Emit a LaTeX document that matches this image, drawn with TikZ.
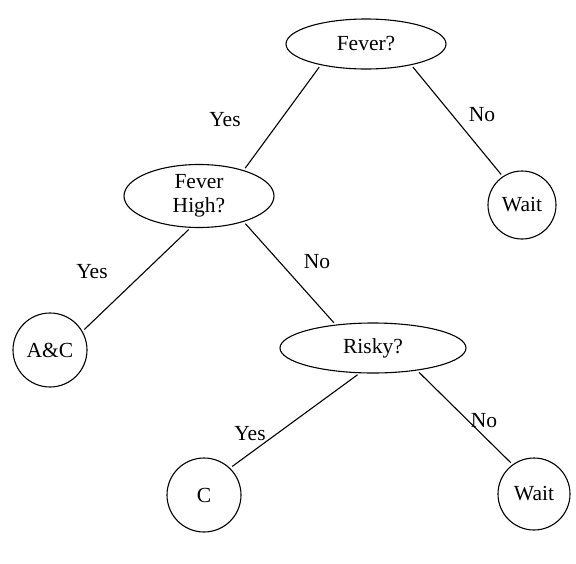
\documentclass[tikz,border=0pt]{standalone}
\usepackage{fontspec}
\setmainfont{Liberation Serif}
\usetikzlibrary{shapes.geometric}

\begin{document}
\begin{tikzpicture}[x=1pt,y=-1pt,line width=1.1pt,
	font=\fontsize{21.5}{24}\selectfont,
	test/.style={draw, ellipse, inner sep=0pt, align=center},
	leaf/.style={draw, circle, inner sep=0pt},
	branch/.style={shorten <=2.5pt, shorten >=2.5pt}]
	\useasboundingbox (0,0) rectangle (576,563);
	% questions
	\node[test, minimum width=160, minimum height=50] (fever) at (366,44) {Fever?};
	\node[test, minimum width=150, minimum height=63] (high) at (199,196) {Fever\\High?};
	\node[test, minimum width=186, minimum height=50] (risky) at (373,348) {Risky?};
	% answers
	\node[leaf, minimum size=68] (wait1) at (522,205) {Wait};
	\node[leaf, minimum size=74] (ac) at (50,350) {A\&C};
	\node[leaf, minimum size=74] (c) at (204,495) {C};
	\node[leaf, minimum size=72] (wait2) at (534,494) {Wait};
	% branches
	\draw[branch] (fever.205) -- (high.30);
	\draw[branch] (fever.335) -- (wait1.124);
	\draw[branch] (high.255) -- (ac.30);
	\draw[branch] (high.330) -- (risky.148);
	\draw[branch] (risky.242) -- (c.46);
	\draw[branch] (risky.333) -- (wait2.126);
	\node (y1) at (225,120) {Yes};
	\node (n1) at (482,115) {No};
	\node (y2) at (92,272) {Yes};
	\node (n2) at (317,262) {No};
	\node (y3) at (250,434) {Yes};
	\node (n3) at (484,421) {No};
\end{tikzpicture}
\end{document}
